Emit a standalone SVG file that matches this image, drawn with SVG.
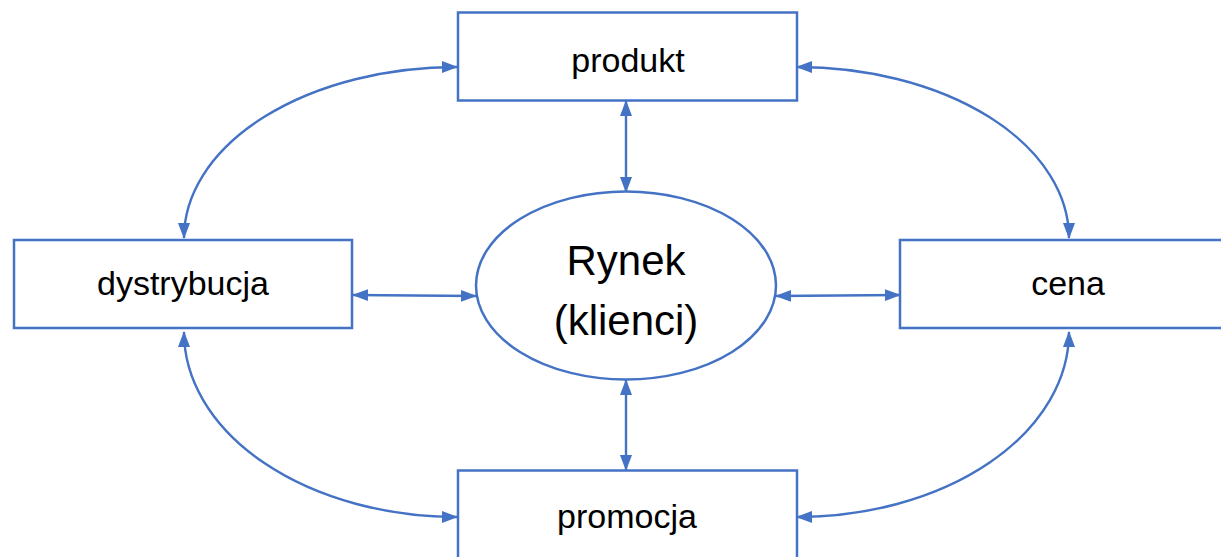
<svg xmlns="http://www.w3.org/2000/svg" width="1221" height="557" viewBox="0 0 1221 557">
<style>
.box{fill:#fff;stroke:#4472C4;stroke-width:2.5}
.lbl{font-family:"Liberation Sans",Arial,sans-serif;font-size:34px;fill:#000;text-anchor:middle}
.big{font-size:42px}
.con{fill:none;stroke:#4472C4;stroke-width:2.4;marker-start:url(#ah);marker-end:url(#ah)}
</style>
<defs>
<marker id="ah" markerUnits="userSpaceOnUse" markerWidth="16" markerHeight="13" refX="15" refY="6" orient="auto-start-reverse" viewBox="0 0 16 12">
<path d="M0,0 L16,6 L0,12 z" fill="#4472C4"/>
</marker>
</defs>
<rect width="1221" height="557" fill="#fff"/>
<g id="connectors">
<line class="con" x1="626" y1="101" x2="626" y2="192"/>
<line class="con" x1="626" y1="380" x2="626" y2="470"/>
<line class="con" x1="353" y1="295" x2="476" y2="296"/>
<line class="con" x1="776" y1="296" x2="900" y2="295"/>
<path class="con" d="M457 67 A273 171 0 0 0 184 238"/>
<path class="con" d="M797 67 A272 171 0 0 1 1069 238"/>
<path class="con" d="M184 332 A273 185 0 0 0 457 517"/>
<path class="con" d="M1069 332 A272 185 0 0 1 797 517"/>
</g>
<g id="produkt">
<rect class="box" x="458" y="12.5" width="339" height="88"/>
<text class="lbl" x="628" y="72">produkt</text>
</g>
<g id="dystrybucja">
<rect class="box" x="14" y="240" width="338" height="88"/>
<text class="lbl" x="183" y="295">dystrybucja</text>
</g>
<g id="cena">
<rect class="box" x="900" y="240" width="340" height="88"/>
<text class="lbl" x="1068" y="295">cena</text>
</g>
<g id="promocja">
<rect class="box" x="458" y="470.5" width="339" height="100"/>
<text class="lbl" x="627" y="528">promocja</text>
</g>
<g id="rynek">
<ellipse class="box" cx="626" cy="285.5" rx="150" ry="94"/>
<text class="lbl big" x="626" y="275">Rynek</text>
<text class="lbl big" x="626" y="335">(klienci)</text>
</g>
</svg>
